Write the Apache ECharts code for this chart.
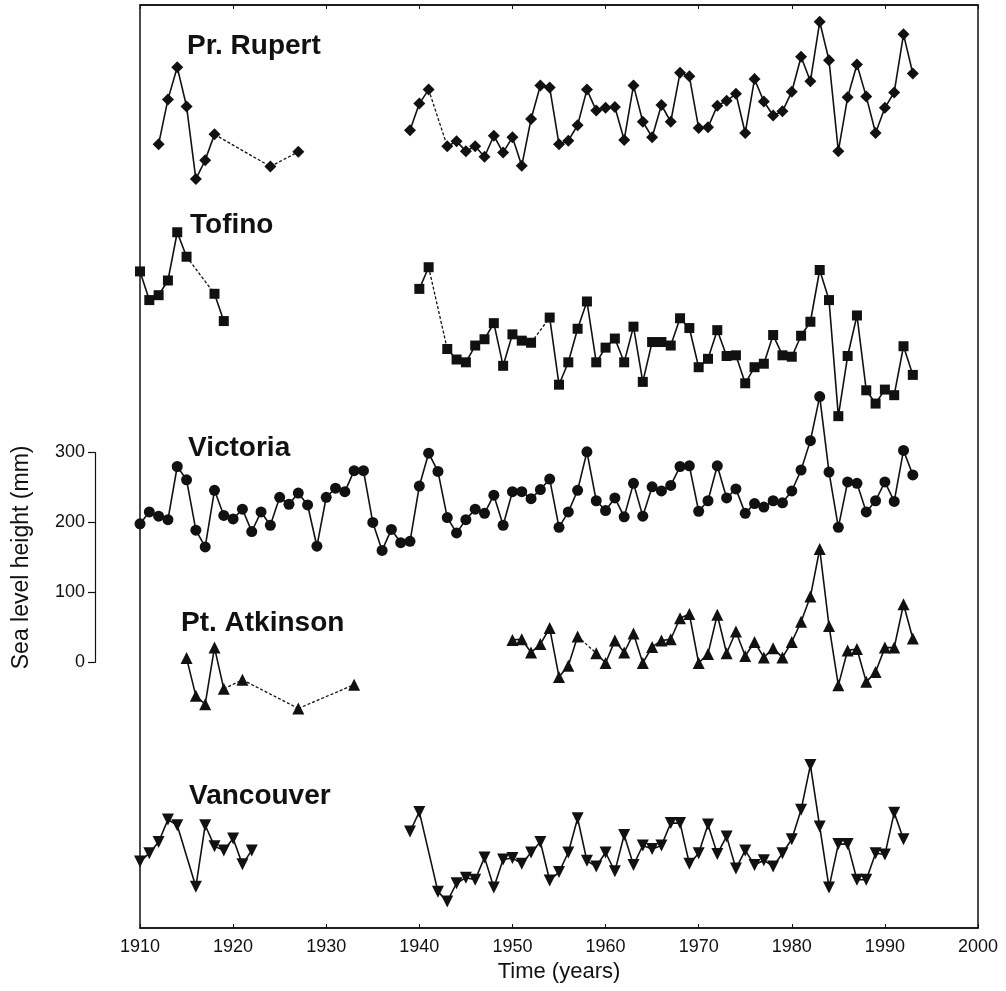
<!DOCTYPE html>
<html>
<head>
<meta charset="utf-8">
<script src="https://cdn.jsdelivr.net/npm/echarts@6/dist/echarts.min.js"></script>
<style>
  html, body { margin: 0; padding: 0; background: #fff; }
  #chart { width: 1006px; height: 991px; }
</style>
</head>
<body>
<div id="chart"></div>
<script>
function range(a, b) {
  const out = []
  for (let y = a; y <= b; y++) out.push(y)
  return out
}

// sea level (mm), each station shifted so the curves stack
const rupertYears = [1912, 1913, 1914, 1915, 1916, 1917, 1918, 1924, 1927, 1939, 1940, 1941].concat(range(1943, 1993))
const rupertValues = [741, 805, 851, 795, 691, 718, 755, 709, 730, 761, 799, 819,
  738, 745, 731, 738, 723, 753, 729, 751, 710, 777, 825, 822, 741, 746, 768, 819, 789, 793, 794, 747,
  825, 773, 751, 797, 773, 843, 838, 764, 765, 796, 803, 813, 757, 834, 802, 782, 788, 816, 866, 831,
  916, 861, 731, 808, 855, 809, 757, 793, 815, 898, 842]
const rupertDashFrom = [1918, 1924, 1941]

const tofinoYears = [1910, 1911, 1912, 1913, 1914, 1915, 1918, 1919, 1940, 1941]
  .concat(range(1943, 1952), range(1954, 1993))
const tofinoValues = [559, 518, 525, 546, 615, 580, 527, 488, 534, 565,
  448, 433, 429, 453, 462, 485, 424, 469, 460, 457,
  493, 397, 429, 477, 516, 429, 450, 463, 429, 480, 401, 458, 458, 453, 492, 478, 422, 434, 475, 438,
  439, 399, 422, 427, 468, 439, 437, 467, 487, 561, 518, 352, 438, 496, 389, 370, 390, 382, 452, 411]
const tofinoDashFrom = [1915, 1941, 1952]

const victoriaYears = range(1910, 1993)
const victoriaValues = [198, 215, 209, 204, 280, 261, 189, 165, 246, 210,
  205, 219, 187, 215, 196, 236, 226, 242, 225, 166,
  236, 249, 244, 274, 274, 200, 160, 190, 171, 173,
  252, 299, 273, 207, 185, 204, 219, 213, 239, 196,
  244, 244, 234, 247, 262, 193, 215, 246, 301, 231,
  217, 235, 208, 256, 209, 251, 245, 253, 280, 281,
  216, 231, 281, 235, 248, 213, 227, 222, 231, 228,
  245, 275, 317, 380, 272, 193, 258, 256, 215, 231,
  258, 230, 303, 268]
const victoriaDashFrom = []

const atkinsonYears = [1915, 1916, 1917, 1918, 1919, 1921, 1927, 1933]
  .concat(range(1950, 1957), range(1959, 1993))
const atkinsonValues = [6, -48, -60, 21, -38, -25, -66, -32,
  32, 33, 14, 26, 49, -21, -5, 37,
  13, -1, 31, 14, 41, -1, 22, 31, 33, 63, 69, -1, 12, 68, 13, 44, 9, 29, 7, 20, 7, 29, 58, 94, 162,
  52, -33, 17, 19, -28, -14, 21, 21, 83, 34]
const atkinsonDashFrom = [1919, 1921, 1927, 1957]

const vancouverYears = [1910, 1911, 1912, 1913, 1914, 1916, 1917, 1918, 1919, 1920, 1921, 1922, 1939, 1940]
  .concat(range(1942, 1992))
const vancouverValues = [-285, -273, -257, -225, -233, -321, -233, -263, -269, -252, -289, -269, -242, -214,
  -328, -342, -316, -308, -311, -279, -322, -282, -280, -288, -272, -257, -312, -300, -272, -223, -284,
  -292, -272, -299, -247, -290, -262, -267, -262, -230, -230, -288, -273, -232, -274, -249, -295, -269,
  -290, -283, -292, -273, -253, -211, -147, -235, -322, -260, -260, -311, -311, -273, -275, -215, -253]
const vancouverDashFrom = []

const yTicks = [0, 100, 200, 300]

// layout
const H = 991
const GRID_LEFT = 140, GRID_RIGHT = 28, GRID_TOP = 5, GRID_BOTTOM = 63
const Y_MIN = -380, Y_MAX = 940
const plotH = H - GRID_TOP - GRID_BOTTOM
const k = plotH / (Y_MAX - Y_MIN)
const scaleTop = GRID_TOP + (Y_MAX - yTicks[yTicks.length - 1]) * k
const scaleH = (yTicks[yTicks.length - 1] - yTicks[0]) * k

const INK = '#111'
const FONT = '"Liberation Sans", Arial, Helvetica, sans-serif'
const LABEL_FONT = 'bold 28px ' + FONT

function stationSeries(name, years, values, dashFrom, symbol, size, rotate) {
  const solid = [], dashed = []
  for (let i = 0; i < years.length; i++) {
    if (i > 0) {
      const prev = years[i - 1]
      const gap = years[i] - prev
      if (dashFrom.indexOf(prev) >= 0) {
        dashed.push([prev, values[i - 1]], [years[i], values[i]], [years[i] + 0.5, null])
        solid.push([prev + 0.5, null])
      } else if (gap > 2) {
        solid.push([prev + 0.5, null])
      }
    }
    solid.push([years[i], values[i]])
  }
  return [
    {
      name: name + ' gaps',
      type: 'line',
      data: dashed,
      showSymbol: false,
      connectNulls: false,
      lineStyle: { color: INK, width: 1.3, type: [3, 2] },
      silent: true,
      z: 2
    },
    {
      name: name,
      type: 'line',
      data: solid,
      connectNulls: false,
      symbol: symbol,
      symbolSize: size,
      symbolRotate: rotate || 0,
      showAllSymbol: true,
      itemStyle: { color: INK },
      lineStyle: { color: INK, width: 1.6 },
      silent: true,
      z: 3
    }
  ]
}

const chart = echarts.init(document.getElementById('chart'))

chart.setOption({
  animation: false,
  backgroundColor: '#fff',
  grid: [
    {
      left: GRID_LEFT, right: GRID_RIGHT, top: GRID_TOP, bottom: GRID_BOTTOM,
      show: true, borderColor: INK, borderWidth: 1.5
    },
    { left: 95, width: 10, top: scaleTop, height: scaleH }
  ],
  xAxis: [
    {
      type: 'value', gridIndex: 0, min: 1910, max: 2000, interval: 10,
      axisLine: { onZero: false, lineStyle: { color: INK, width: 1.5 } },
      axisTick: { inside: true, length: 4, lineStyle: { color: INK } },
      axisLabel: { color: INK, fontSize: 18, fontFamily: FONT, margin: 10, formatter: v => String(v) },
      splitLine: { show: false },
      name: 'Time (years)', nameLocation: 'middle', nameGap: 33,
      nameTextStyle: { color: INK, fontSize: 22, fontFamily: FONT }
    },
    {
      type: 'value', gridIndex: 0, position: 'top', min: 1910, max: 2000, interval: 10,
      axisLine: { onZero: false, lineStyle: { color: INK, width: 1.5 } },
      axisTick: { inside: true, length: 4, lineStyle: { color: INK } },
      axisLabel: { show: false },
      splitLine: { show: false }
    },
    { type: 'value', gridIndex: 1, min: 0, max: 1, show: false }
  ],
  yAxis: [
    { type: 'value', gridIndex: 0, min: Y_MIN, max: Y_MAX, show: false },
    {
      type: 'value', gridIndex: 1, min: yTicks[0], max: yTicks[yTicks.length - 1], interval: 100,
      axisLine: { show: true, lineStyle: { color: INK, width: 1.2 } },
      axisTick: { show: true, length: 7, lineStyle: { color: INK, width: 1.2 } },
      axisLabel: { color: INK, fontSize: 18, fontFamily: FONT, margin: 10 },
      splitLine: { show: false },
      name: 'Sea level height (mm)', nameLocation: 'middle', nameGap: 62,
      nameTextStyle: { color: INK, fontSize: 23, fontFamily: FONT }
    }
  ],
  graphic: [
    { type: 'text', x: 187, y: 46, style: { text: 'Pr. Rupert', font: LABEL_FONT, fill: INK, verticalAlign: 'middle' } },
    { type: 'text', x: 190, y: 225, style: { text: 'Tofino', font: LABEL_FONT, fill: INK, verticalAlign: 'middle' } },
    { type: 'text', x: 188, y: 448, style: { text: 'Victoria', font: LABEL_FONT, fill: INK, verticalAlign: 'middle' } },
    { type: 'text', x: 181, y: 623, style: { text: 'Pt. Atkinson', font: LABEL_FONT, fill: INK, verticalAlign: 'middle' } },
    { type: 'text', x: 189, y: 796, style: { text: 'Vancouver', font: LABEL_FONT, fill: INK, verticalAlign: 'middle' } }
  ],
  series: [].concat(
    stationSeries('Pr. Rupert', rupertYears, rupertValues, rupertDashFrom, 'diamond', 12),
    stationSeries('Tofino', tofinoYears, tofinoValues, tofinoDashFrom, 'rect', 10),
    stationSeries('Victoria', victoriaYears, victoriaValues, victoriaDashFrom, 'circle', 11),
    stationSeries('Pt. Atkinson', atkinsonYears, atkinsonValues, atkinsonDashFrom, 'triangle', 12),
    stationSeries('Vancouver', vancouverYears, vancouverValues, vancouverDashFrom, 'triangle', 12, 180)
  )
})
</script>
</body>
</html>
